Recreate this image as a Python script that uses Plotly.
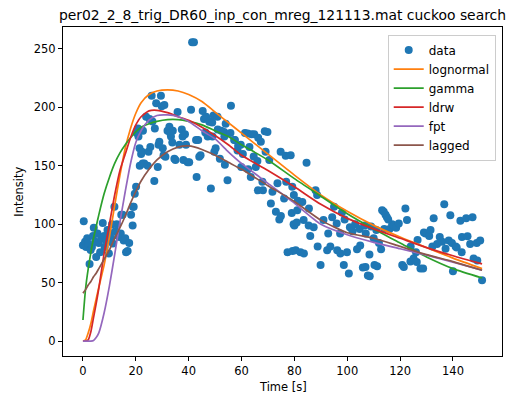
import plotly.graph_objects as go

# ---- measured data (time [s], intensity) ----
t_data = [0.0, 0.3, 0.8, 1.2, 1.6, 1.9, 2.5, 2.9, 3.4, 3.8, 4.1, 4.6, 5.0, 5.5, 6.0, 6.5, 6.9, 7.5, 8.0, 8.2,
          8.8, 9.3, 9.8, 10.2, 10.6, 11.0, 11.3, 11.9, 12.3, 12.8, 13.3, 13.8, 14.3, 14.5, 15.0, 15.4, 16.0, 16.3, 16.9, 17.5,
          18.2, 18.8, 18.9, 19.2, 19.6, 20.1,
          20.4, 20.8, 21.0, 21.4, 21.5, 22.0, 22.3, 22.6, 22.7, 23.2, 23.9, 24.5, 24.8, 25.2, 25.5, 26.0, 26.3, 27.0, 27.2, 27.7,
          28.3, 28.6, 28.9, 29.5, 29.8, 30.2, 30.5, 30.8, 31.2, 32.0, 32.7, 33.0, 33.3, 33.8, 34.0, 34.6, 35.0, 35.8, 36.5, 37.4,
          37.7, 38.0, 38.6, 39.0, 39.6, 40.2, 40.9, 41.3, 42.0, 42.8, 43.0, 43.6, 44.0, 44.5, 45.3, 45.8, 46.3, 46.6, 47.2, 47.8,
          48.4, 48.9, 49.0, 49.4, 49.7, 50.2,
          50.9, 51.0, 51.8, 52.3, 53.4, 53.5, 53.7, 54.0, 54.7, 55.8, 56.0, 57.2, 57.5, 58.5, 58.7, 59.7, 59.9, 60.5, 61.3, 62.3,
          62.5, 63.0, 63.5, 63.8, 64.6, 64.8, 65.4, 66.0, 66.2, 66.3, 67.3, 67.9, 68.1, 68.8, 69.1, 69.8, 70.5, 71.1, 71.7, 73.0,
          73.6, 74.3, 74.8, 74.9, 76.1, 76.7, 76.9, 77.4, 78.6, 79.0, 79.2, 79.3, 79.7, 79.8, 80.0, 80.5,
          80.9, 81.1, 81.3, 82.3, 83.0, 83.5, 83.6, 84.6, 85.4, 85.5, 86.0, 87.3, 88.0, 88.6, 88.8, 89.9, 91.0, 92.4, 92.8, 93.6,
          94.3, 95.0, 96.0, 96.2, 97.3, 97.4, 98.0, 98.7, 99.0, 99.9, 100.6, 101.0, 102.0, 103.0, 103.7, 104.7, 104.9, 105.9, 106.6, 106.9,
          107.0, 107.8, 108.4, 108.5, 109.0, 110.0, 110.3, 111.0, 111.3, 112.0, 112.8, 113.2, 113.8, 114.0, 114.5, 115.0,
          115.5, 116.0, 117.0, 117.5, 118.5, 119.5, 120.8, 121.4, 122.0, 122.6, 123.9, 124.0, 125.1, 126.0, 126.3, 126.6, 127.7, 128.7,
          129.0, 129.6, 131.0, 131.5, 132.2, 132.7, 134.0, 135.0, 135.9, 136.7, 137.2, 138.4, 139.0, 139.6, 140.0, 141.0, 141.4, 142.8,
          143.3, 143.4, 145.0, 145.5, 146.5, 147.4, 147.8, 149.0, 149.2, 150.3, 151.0]
y_data = [82, 102.6, 85, 80.6, 88, 83.5, 66, 78, 80.6, 90, 97, 85, 72, 92, 84, 76, 87.8, 101, 90, 80.6,
          86, 95, 75, 92, 88, 100, 83.5, 115, 94, 100, 90, 89, 92, 108, 108, 86, 88, 76, 77, 84,
          108, 99, 115, 115, 126, 132,
          178, 182, 175, 165, 150, 160, 162, 152, 180, 152, 192, 150, 162, 190, 166, 210, 188, 137, 182, 203.5,
          149, 168, 170.6, 210, 201, 165, 159, 202, 157.7, 180, 183.5, 178, 175, 170, 180, 156, 155, 196, 168, 181,
          175, 155, 177, 168, 153, 153, 198, 255.8, 255.8, 172, 140.5, 172, 157.7, 159, 197, 190, 178.6, 192, 175, 187.7,
          130.6, 187, 175, 193, 162, 165,
          192, 181, 156, 180, 179, 175, 151, 186, 137.7, 178, 201.5, 172, 172, 163, 167, 168, 149, 160, 178, 177.7,
          147, 166, 140.5, 177, 158, 177, 149, 154, 129, 174, 170.6, 136.3, 129, 179.5, 162, 179, 155, 117.8, 127.7, 110.6,
          135, 104, 162, 107, 122, 158.5, 136.3, 76, 159, 109.5, 132, 77, 100, 125, 99, 77.7,
          101.5, 112, 120, 76, 119, 103.5, 75, 152.6, 99, 113.5, 90, 97.5, 129, 125, 81, 65, 103.5, 77.7, 92, 81,
          106, 115, 100.6, 77.7, 92, 75, 110, 65, 104, 76, 57.8, 97.5, 94, 100, 78.5, 96, 81.7, 63, 99, 63.4,
          92, 56, 74, 55.5, 98, 88, 65, 95, 64, 84, 78.5, 112, 110.6, 96, 108, 106,
          104, 96, 100, 99, 97, 100.6, 65, 63.4, 113.5, 103.5, 68, 81, 70.6, 76, 67.7, 86.5, 62, 62,
          93, 92, 90, 95, 81, 105, 83, 89, 85, 117, 79, 86, 107.7, 84, 59.7, 81, 80, 103,
          76, 89, 105, 89.6, 83, 106, 70.6, 84, 69, 86, 52]

# ---- fitted model curves, sampled at t_fit ----
t_fit = [0, 1, 2, 3, 4, 5, 6, 8, 10, 12, 14, 16, 18, 20, 22, 25, 28, 32, 36, 40, 45, 50, 55, 60,
         70, 80, 90, 100, 110, 120, 130, 140, 151]
lognormal = [0, 1, 7, 15, 26, 36, 46, 65, 89, 116, 142, 165, 182, 195, 204, 211, 214, 215, 214, 211, 205, 196, 187, 178,
             160, 142, 125, 111, 99, 89, 80, 71, 62]
gamma = [18, 45, 62, 76, 88, 98, 108, 126, 140, 152, 161, 168, 174, 179, 183, 186, 188, 189.5, 189.5, 188, 185, 180, 175, 168,
         155, 139, 124, 109, 96, 84, 72, 62, 54]
ldrw = [0, 0, 1, 8, 20, 32, 45, 75, 100, 125, 146, 160, 174, 185, 192, 197, 197.5, 195.5, 192, 189, 183, 176, 168, 159,
        146, 132, 117, 105, 96, 88, 80, 73, 66]
fpt = [0, 0, 0, 0, 0.5, 3, 7, 24, 47, 74, 102, 128, 152, 170, 180, 189, 193, 193.5, 192, 188, 180, 173, 162, 152,
       135, 118, 100, 91, 84.5, 79, 73.5, 67.5, 60.6]
lagged = [41, 44, 48, 51, 55, 58, 62, 70, 78, 88, 97, 107, 118, 128, 137, 147, 155, 162, 166, 167, 164, 159, 153, 147,
          133, 119.5, 103.5, 92.7, 88, 81, 74, 68, 60.6]

fit_names = ["lognormal", "gamma", "ldrw", "fpt", "lagged"]
fit_values = [lognormal, gamma, ldrw, fpt, lagged]
fit_colors = ["#ff7f0e", "#2ca02c", "#d62728", "#9467bd", "#8c564b"]

x_ticks = [0, 20, 40, 60, 80, 100, 120, 140]
y_ticks = [0, 50, 100, 150, 200, 250]

FONT = "DejaVu Sans"

fig = go.Figure()
fig.add_trace(go.Scatter(x=t_data, y=y_data, mode="markers", name="data",
                         marker=dict(size=8, color="#1f77b4", line=dict(width=0))))
for name, vals, col in zip(fit_names, fit_values, fit_colors):
    fig.add_trace(go.Scatter(x=t_fit, y=vals, mode="lines", name=name,
                             line=dict(color=col, width=1.7, shape="spline", smoothing=0.6)))

axis_common = dict(showline=True, linecolor="black", linewidth=1, mirror=True,
                   ticks="outside", ticklen=4, tickcolor="black", showgrid=False, zeroline=False,
                   tickfont=dict(family=FONT, size=11.5, color="black"))
fig.update_xaxes(range=[-7.55, 158.55], tickvals=x_ticks, **axis_common)
fig.update_yaxes(range=[-12.8, 268.8], tickvals=y_ticks, **axis_common)

fig.update_layout(
    width=529, height=401,
    margin=dict(l=63, r=27, t=27, b=45),
    paper_bgcolor="white", plot_bgcolor="white",
    title=dict(text="per02_2_8_trig_DR60_inp_con_mreg_121113.mat cuckoo search",
               x=0.534, xanchor="center", y=1 - 15 / 401, yanchor="middle",
               font=dict(family=FONT, size=13.9, color="black")),
    legend=dict(x=0.9857, xanchor="right", y=0.977, yanchor="top",
                bgcolor="rgba(255,255,255,0.8)", bordercolor="#cccccc", borderwidth=1,
                font=dict(family=FONT, size=12, color="black"), tracegroupgap=0),
    showlegend=True,
    annotations=[
        dict(text="Time [s]", xref="paper", yref="paper", x=0.5, y=-0.095, yanchor="middle",
             showarrow=False, font=dict(family=FONT, size=11.5, color="black")),
        dict(text="Intensity", xref="paper", yref="paper", x=-0.102, y=0.5, textangle=-90,
             xanchor="center", yanchor="middle",
             showarrow=False, font=dict(family=FONT, size=11.5, color="black")),
    ],
)

fig.write_html("out.html")
